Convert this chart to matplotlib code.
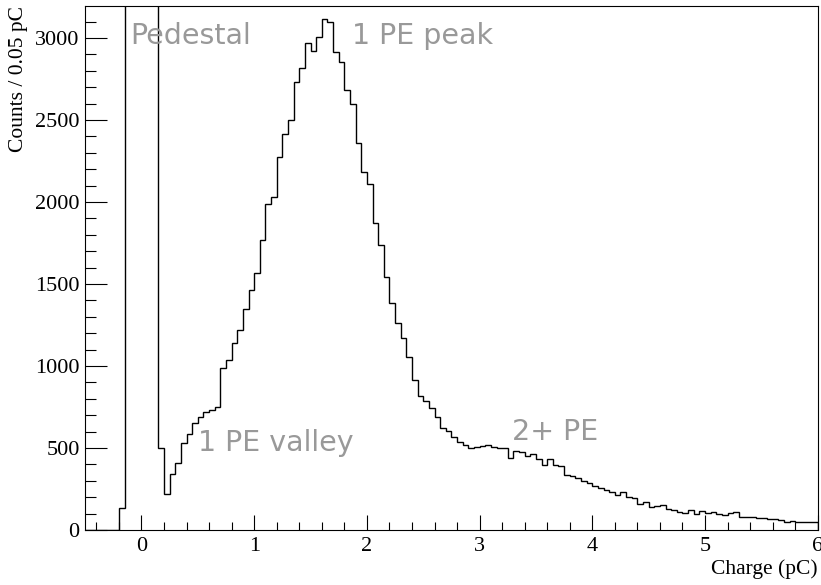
import numpy as np
import matplotlib
matplotlib.use("Agg")
import matplotlib.pyplot as plt
from matplotlib.ticker import MultipleLocator

# histogram bins: 0.05 pC from -0.5 to 6 pC
bin_lo = -0.5
bin_hi = 6.0
bin_w = 0.05

# counts per bin (pedestal bins 7-12 are off scale)
counts = [
    0, 0, 0, 0, 0, 0, 136,
    5200, 38000, 91000, 74000, 26000, 3900,
    500, 221, 340, 407, 532, 585, 650, 691, 722, 734, 750,
    990, 1037, 1138, 1220, 1346, 1463, 1565, 1768, 1988, 2030,
    2272, 2415, 2500, 2733, 2815, 2972, 2923, 3008, 3116, 3098,
    2917, 2852, 2680, 2596, 2362, 2181, 2108, 1870, 1740, 1545,
    1385, 1262, 1173, 1057, 915, 820, 788, 742, 691, 620,
    602, 569, 536, 516, 502, 506, 510, 520, 505, 502,
    498, 437, 484, 476, 452, 466, 432, 398, 432, 395,
    388, 338, 328, 316, 298, 284, 268, 254, 244, 232,
    212, 234, 203, 198, 158, 172, 138, 148, 150, 128,
    120, 112, 106, 124, 97, 116, 106, 112, 98, 92,
    106, 108, 81, 81, 77, 75, 71, 67, 65, 61,
    47, 57, 51, 49, 47, 47,
]

labels = ["Pedestal", "1 PE peak", "1 PE valley", "2+ PE"]
label_x = [-0.10, 1.87, 0.50, 3.29]
label_y = [2965, 2965, 480, 550]

edges = np.linspace(bin_lo, bin_hi, len(counts) + 1)

fig = plt.figure(figsize=(8.21, 5.85), dpi=100)
ax = fig.add_axes([0.1037, 0.094, 0.8923, 0.8957])

ax.stairs(counts, edges, color="black", lw=1.0)

ax.set_xlim(bin_lo, bin_hi)
ax.set_ylim(0, 3195)

ax.xaxis.set_major_locator(MultipleLocator(1))
ax.xaxis.set_minor_locator(MultipleLocator(0.2))
ax.yaxis.set_major_locator(MultipleLocator(500))
ax.yaxis.set_minor_locator(MultipleLocator(100))

ax.tick_params(axis="both", which="both", direction="in", width=0.8,
               labelsize=16, top=False, right=False)
ax.tick_params(axis="y", which="major", length=15.8, pad=4)
ax.tick_params(axis="y", which="minor", length=7.9)
ax.tick_params(axis="x", which="major", length=11, pad=5)
ax.tick_params(axis="x", which="minor", length=5.5)
for lab in ax.get_xticklabels() + ax.get_yticklabels():
    lab.set_fontfamily("Liberation Serif")

for s in ax.spines.values():
    s.set_linewidth(0.8)

ax.set_xlabel("Charge (pC)", fontsize=15.5, family="Liberation Serif", loc="right")
ax.set_ylabel("Counts / 0.05 pC", fontsize=15.5, family="Liberation Serif", loc="top")
ax.xaxis.set_label_coords(1.0, -0.055)
ax.yaxis.set_label_coords(-0.078, 1.0)

for t, x, y in zip(labels, label_x, label_y):
    ax.text(x, y, t, fontsize=20.5, color="#999999", family="DejaVu Sans",
            ha="left", va="baseline")

fig.savefig("out.png", dpi=100)
